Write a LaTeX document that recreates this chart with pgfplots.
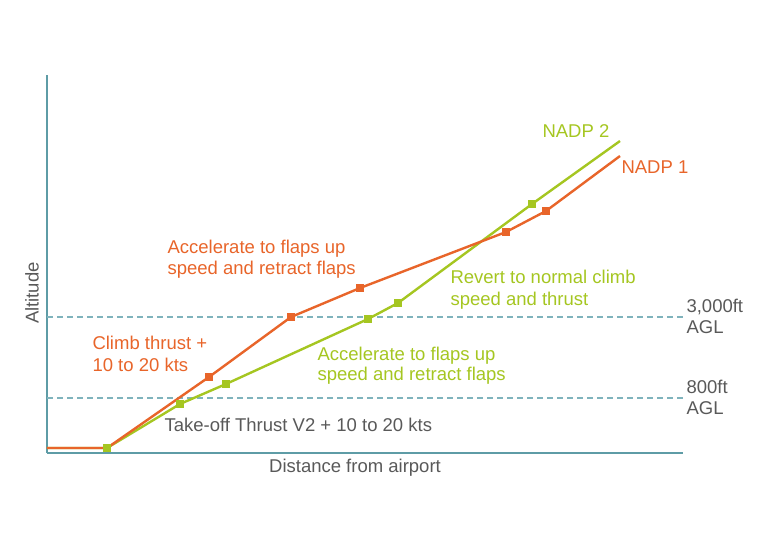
\documentclass[border=0pt]{standalone}
\usepackage{pgfplots}
\pgfplotsset{compat=1.18}
\usepackage{fontspec}
\setmainfont{Liberation Sans}

\definecolor{nadpone}{HTML}{E8652A}
\definecolor{nadptwo}{HTML}{A5C621}
\definecolor{spine}{HTML}{5E9CA6}
\definecolor{refline}{HTML}{7FB3BC}
\definecolor{txt}{HTML}{595959}

\begin{document}
\begin{tikzpicture}[font=\fontsize{18.5}{22}\selectfont]
\useasboundingbox (-47pt,-105pt) rectangle (720pt,453pt);

\begin{axis}[
  at={(0,0)}, anchor=south west,
  width=636pt, height=378pt, scale only axis,
  xmin=0, xmax=636, ymin=0, ymax=378,
  axis lines=left, axis line style={-, spine, line width=2pt},
  xtick=\empty, ytick=\empty,
  clip=false,
]

% reference altitudes
\addplot[refline, line width=1.3pt, dash pattern=on 6pt off 4pt] coordinates {(0,136) (637,136)};
\addplot[refline, line width=1.3pt, dash pattern=on 6pt off 4pt] coordinates {(0,55) (637,55)};

% NADP 2
\addplot[nadptwo, line width=2.4pt, mark=square*, mark size=3pt,
  mark indices={2,3,4,5,6,7}, mark options={solid}]
  coordinates {(0,5) (60,5) (133,49) (179,69) (321,134) (351,150) (485,249) (573,312)};

% NADP 1
\addplot[nadpone, line width=2.4pt, mark=square*, mark size=3pt,
  mark indices={3,4,5,6,7}, mark options={solid}]
  coordinates {(0,5) (60,5) (162,76) (244,136) (313,165) (459,221) (499,242) (573,297)};

\addplot[only marks, nadptwo, mark=square*, mark size=3pt] coordinates {(60,5)};

% series names
\node[anchor=base west, text=nadptwo] at (axis cs:492,316) {NADP 2};
\node[anchor=base west, text=nadpone] at (axis cs:571,280) {NADP 1};

% phase annotations
\node[anchor=base west, text=nadpone] at (axis cs:117,200) {Accelerate to flaps up};
\node[anchor=base west, text=nadpone] at (axis cs:117,179) {speed and retract flaps};
\node[anchor=base west, text=nadpone] at (axis cs:42,104) {Climb thrust +};
\node[anchor=base west, text=nadpone] at (axis cs:42,82) {10 to 20 kts};
\node[anchor=base west, text=nadptwo] at (axis cs:400,170) {Revert to normal climb};
\node[anchor=base west, text=nadptwo] at (axis cs:400,148) {speed and thrust};
\node[anchor=base west, text=nadptwo] at (axis cs:267,93) {Accelerate to flaps up};
\node[anchor=base west, text=nadptwo] at (axis cs:267,73) {speed and retract flaps};
\node[anchor=base west, text=txt] at (axis cs:114,22) {Take-off Thrust V2 + 10 to 20 kts};

% reference altitude labels
\node[anchor=base west, text=txt] at (axis cs:636,141) {3,000ft};
\node[anchor=base west, text=txt] at (axis cs:636,120) {AGL};
\node[anchor=base west, text=txt] at (axis cs:636,60) {800ft};
\node[anchor=base west, text=txt] at (axis cs:636,39) {AGL};

% axis titles
\node[anchor=base, text=txt] at (axis cs:308,-19) {Distance from airport};
\node[rotate=90, text=txt] at (axis cs:-15,160) {Altitude};

\end{axis}
\end{tikzpicture}
\end{document}
